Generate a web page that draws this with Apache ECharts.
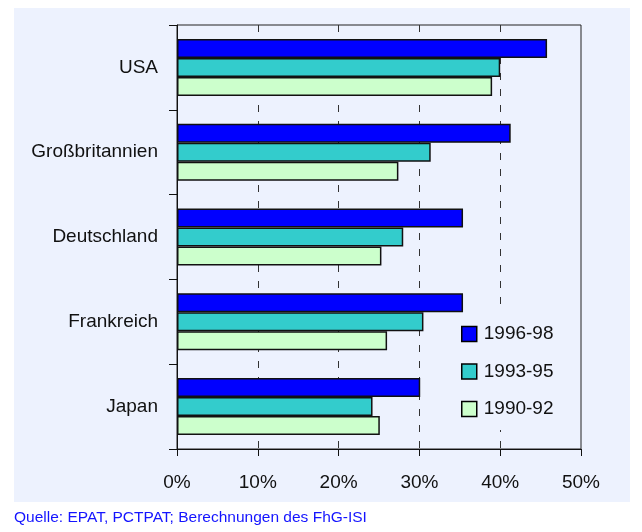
<!DOCTYPE html>
<html>
<head>
<meta charset="utf-8">
<script src="https://cdn.jsdelivr.net/npm/echarts@6/dist/echarts.min.js"></script>
<style>
html,body{margin:0;padding:0;background:#fff;}
#c{width:642px;height:532px;}
</style>
</head>
<body>
<div id="c"></div>
<script>
const categories = ['USA', 'Großbritannien', 'Deutschland', 'Frankreich', 'Japan'];
const seriesNames = ['1996-98', '1993-95', '1990-92'];
const values9698 = [45.8, 41.3, 35.4, 35.4, 30.1];
const values9395 = [40.0, 31.4, 28.0, 30.5, 24.2];
const values9092 = [39.0, 27.4, 25.3, 26.0, 25.1];
const xTicks = [0, 10, 20, 30, 40, 50];
const sourceText = 'Quelle: EPAT, PCTPAT; Berechnungen des FhG-ISI';

const colors = ['#0000FF', '#33CCCC', '#CCFFCC'];
const bg = '#EDF2FE';
const FONT = "'Liberation Sans', Arial, sans-serif";

const chart = echarts.init(document.getElementById('c'), null, {renderer: 'canvas'});
const allValues = [values9698, values9395, values9092];

chart.setOption({
  animation: false,
  backgroundColor: '#fff',
  textStyle: {fontFamily: FONT},
  graphic: [
    {type: 'rect', z: -10, silent: true, shape: {x: 14, y: 8, width: 616, height: 494}, style: {fill: bg}},
    {type: 'text', left: 14, top: 510, style: {text: sourceText, fill: '#1414FF', font: "15.5px " + FONT}}
  ],
  grid: {left: 177, right: 61, top: 25, bottom: 83, show: true, borderColor: '#222', borderWidth: 1, backgroundColor: bg},
  legend: {
    orient: 'vertical', left: 439, top: 313,
    padding: [10, 10, 10, 22],
    backgroundColor: bg,
    itemWidth: 15, itemHeight: 15, itemGap: 15.5,
    icon: 'rect',
    itemStyle: {borderColor: '#000', borderWidth: 1.5},
    textStyle: {fontFamily: FONT, fontSize: 19, color: '#111', lineHeight: 22, padding: [0,0,0,2]},
    data: seriesNames
  },
  xAxis: {
    type: 'value', min: 0, max: 50, interval: 10,
    axisLine: {show: true, lineStyle: {color: '#111', width: 1}},
    axisTick: {show: true, length: 7, lineStyle: {color: '#111'}},
    axisLabel: {fontFamily: FONT, fontSize: 19, color: '#111', margin: 24,
      formatter: v => xTicks.includes(v) ? v + '%' : ''},
    splitLine: {show: true, showMinLine: false, showMaxLine: false, lineStyle: {color: '#333', type: [7, 9], width: 1}}
  },
  yAxis: {
    type: 'category', inverse: true, data: categories,
    axisLine: {show: true, lineStyle: {color: '#111', width: 1}},
    axisTick: {show: true, length: 8, lineStyle: {color: '#111'}},
    axisLabel: {fontFamily: FONT, fontSize: 19, color: '#111', margin: 19}
  },
  series: seriesNames.map((name, i) => ({
    name: name, type: 'bar', data: allValues[i],
    barWidth: 19, barGap: '0%',
    itemStyle: {color: colors[i], borderColor: '#111', borderWidth: 1.5}
  }))
});
</script>
</body>
</html>
